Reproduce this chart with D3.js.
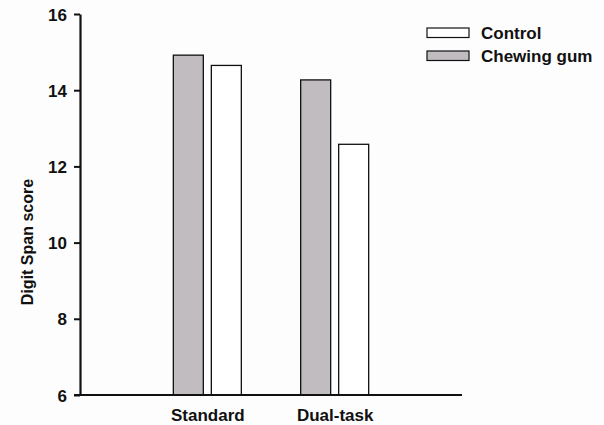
<!DOCTYPE html>
<html><head><meta charset="utf-8">
<script src="https://cdn.jsdelivr.net/npm/d3@7/dist/d3.min.js"></script>
<style>body{margin:0;background:#fdfdfd}svg{display:block}text{font-family:Arial,"Liberation Sans",sans-serif;font-weight:bold;fill:#111}</style>
</head><body><svg width="604" height="425"></svg>
<script>
const categories = ["Standard", "Dual-task"];
const seriesNames = ["Chewing gum", "Control"];
const chewingGum = [14.92, 14.27];
const control = [14.65, 12.58];
const yTicks = [6, 8, 10, 12, 14, 16];

const svg = d3.select("svg");
const x = d3.scalePoint().domain(categories).range([80, 462]).padding(1);
const y = d3.scaleLinear().domain([6, 16]).range([395, 14]);
const bw = 30, gap = 4;
const fills = {"Chewing gum": "#c0bcc0", "Control": "#ffffff"};
const series = [{name: "Chewing gum", values: chewingGum, off: -gap - bw}, {name: "Control", values: control, off: gap}];
const FONT = "Arial, 'Liberation Sans', sans-serif";

series.forEach(s => {
  svg.selectAll(null).data(s.values).enter().append("rect")
    .attr("x", (d, i) => x(categories[i]) + s.off)
    .attr("y", d => y(d))
    .attr("width", bw)
    .attr("height", d => y(6) - y(d))
    .attr("fill", fills[s.name]).attr("stroke", "#111").attr("stroke-width", 1.3);
});

const yAxis = svg.append("g").attr("transform", "translate(80,0)")
  .call(d3.axisLeft(y).tickValues(yTicks).tickSize(6).tickPadding(7).tickSizeOuter(0));
yAxis.select(".domain").attr("stroke", "#111").attr("stroke-width", 2.2);
yAxis.selectAll(".tick line").attr("stroke", "#111").attr("stroke-width", 2);
yAxis.selectAll(".tick text").style("font-size", "17px").style("font-family", FONT).style("font-weight", "bold").attr("fill", "#111").attr("dy", "0.36em");

const xAxis = svg.append("g").attr("transform", "translate(0,395)")
  .call(d3.axisBottom(x).tickSize(0).tickPadding(14).tickSizeOuter(0));
xAxis.select(".domain").attr("d", "M74,0H462").attr("stroke", "#111").attr("stroke-width", 2.2);
xAxis.selectAll(".tick text").style("font-size", "17px").style("font-family", FONT).style("font-weight", "bold").attr("fill", "#111");

svg.append("text").attr("transform", "translate(33,242) rotate(-90)")
  .attr("text-anchor", "middle").style("font-size", "16px").text("Digit Span score");

const legendItems = ["Control", "Chewing gum"];
const lg = svg.append("g");
legendItems.forEach((n, i) => {
  lg.append("rect").attr("x", 427).attr("y", 28 + i * 23).attr("width", 42).attr("height", 9.5)
    .attr("fill", fills[n]).attr("stroke", "#111").attr("stroke-width", 1.2);
  lg.append("text").attr("x", 481).attr("y", 39 + i * 23).style("font-size", "17px").text(n);
});
</script></body></html>
